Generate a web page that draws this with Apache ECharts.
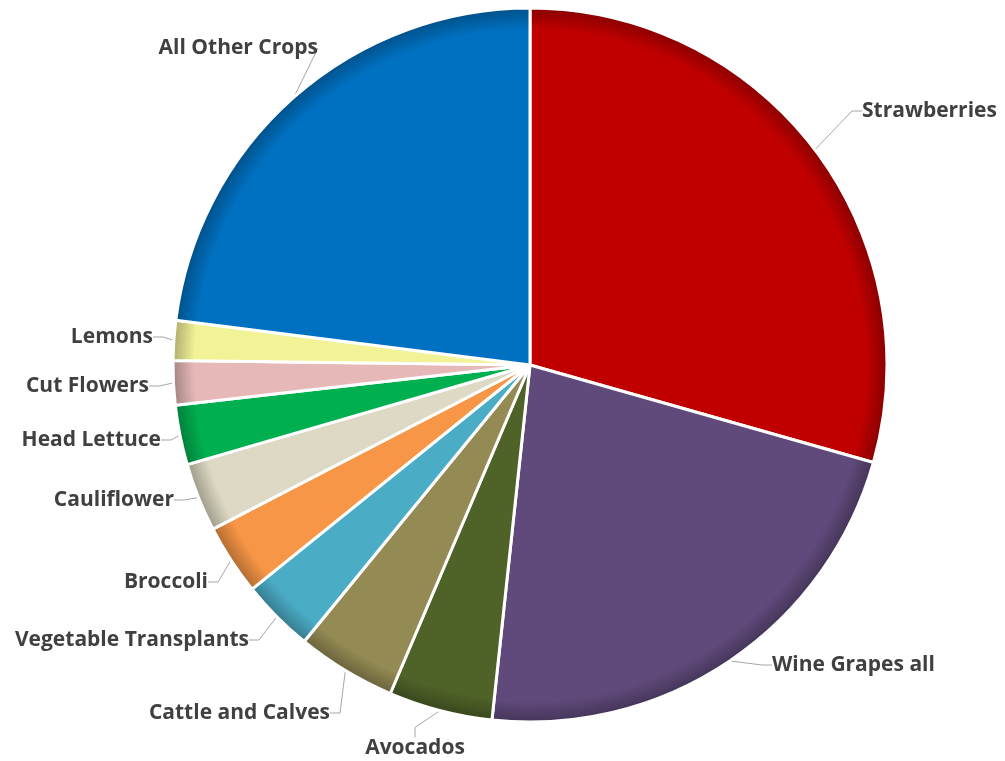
<!DOCTYPE html>
<html>
<head>
<meta charset="utf-8">
<script src="https://cdn.jsdelivr.net/npm/echarts@6/dist/echarts.min.js"></script>
<style>
html, body { margin: 0; padding: 0; background: #fff; }
#chart { width: 1005px; height: 761px; }
</style>
</head>
<body>
<div id="chart"></div>
<script>
var crops = ['Strawberries', 'Wine Grapes all', 'Avocados', 'Cattle and Calves', 'Vegetable Transplants',
	'Broccoli', 'Cauliflower', 'Head Lettuce', 'Cut Flowers', 'Lemons', 'All Other Crops'];
var shares = [29.4, 22.3, 4.7, 4.5, 3.3, 3.2, 3.1, 2.7, 2.0, 1.8, 23.0];
var colors = ['#c00000', '#604a7b', '#4f6228', '#948a54', '#4bacc6',
	'#f79646', '#ddd9c4', '#00b050', '#e6b9b8', '#f2f297', '#0070c0'];

var cx = 530, cy = 365, R = 357;

// where each label text sits (anchor x, y, align), as in the original
var labelSpots = {
	'Strawberries': [862, 111, 'left'],
	'Wine Grapes all': [772, 665, 'left'],
	'Avocados': [415, 748, 'center'],
	'Cattle and Calves': [330, 713, 'right'],
	'Vegetable Transplants': [249, 640, 'right'],
	'Broccoli': [208, 582, 'right'],
	'Cauliflower': [174, 500, 'right'],
	'Head Lettuce': [161, 440, 'right'],
	'Cut Flowers': [149, 386, 'right'],
	'Lemons': [153, 337, 'right'],
	'All Other Crops': [318, 48, 'right']
};

// darker rim, like the bevel in the original
function shade(hex, k) {
	var n = parseInt(hex.slice(1), 16);
	var r = Math.round(((n >> 16) & 255) * k);
	var g = Math.round(((n >> 8) & 255) * k);
	var b = Math.round((n & 255) * k);
	return 'rgb(' + r + ',' + g + ',' + b + ')';
}

var data = crops.map(function(name, i) {
	return {
		name: name,
		value: shares[i],
		itemStyle: {
			color: {
				type: 'radial', x: cx, y: cy, r: R, global: true,
				colorStops: [
					{offset: 0, color: colors[i]},
					{offset: 0.94, color: colors[i]},
					{offset: 1, color: shade(colors[i], 0.72)}
				]
			}
		}
	};
});

var myChart = echarts.init(document.getElementById('chart'));
myChart.setOption({
	animation: false,
	series: [{
		type: 'pie',
		center: [cx, cy],
		radius: R,
		startAngle: 90,
		clockwise: true,
		data: data,
		itemStyle: {
			borderColor: '#fff',
			borderWidth: 3
		},
		label: {
			show: true,
			position: 'outside',
			fontFamily: 'Open Sans',
			fontWeight: 'bold',
			fontSize: 21,
			color: '#404040',
			formatter: '{b}'
		},
		labelLine: {
			show: true,
			length: 8,
			length2: 10,
			lineStyle: {color: '#a6a6a6', width: 1}
		},
		labelLayout: function(params) {
			var s = labelSpots[crops[params.dataIndex]];
			if (!s) return {};
			return {x: s[0], y: s[1], align: s[2], verticalAlign: 'middle'};
		}
	}]
});
</script>
</body>
</html>
